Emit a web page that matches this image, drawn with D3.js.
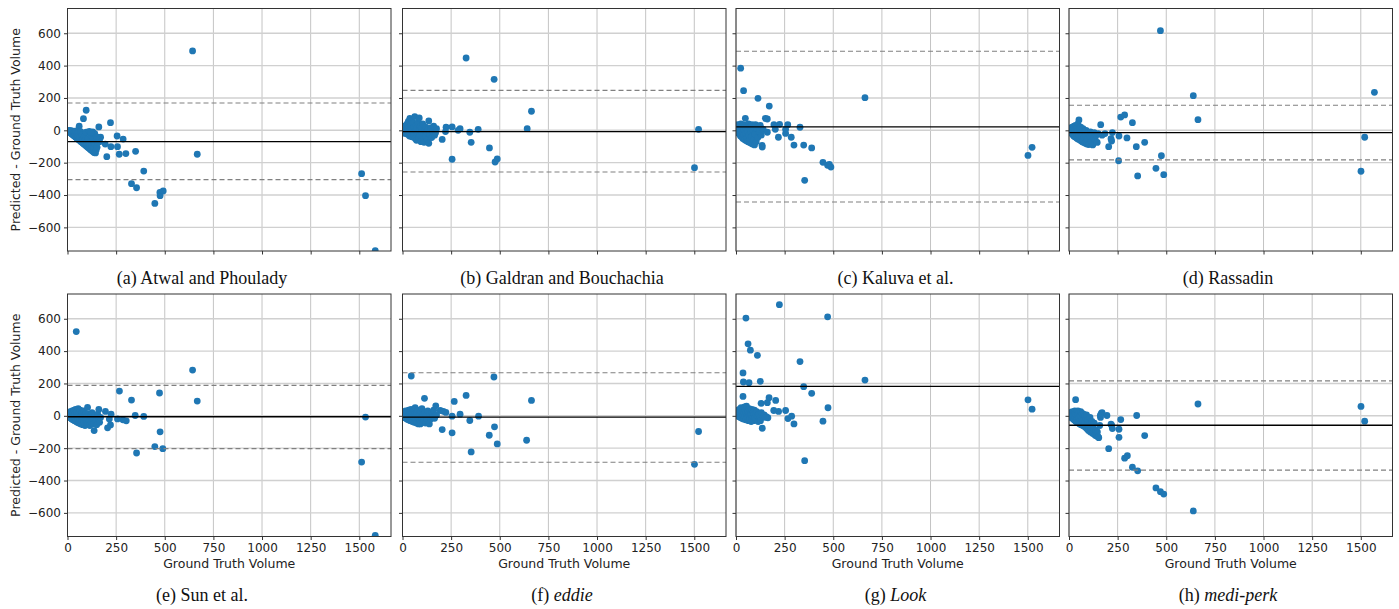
<!DOCTYPE html>
<html>
<head>
<meta charset="utf-8">
<script src="https://cdn.jsdelivr.net/npm/d3@7"></script>
<style>
  body { margin: 0; background: #fff; }
  svg { display: block; }
</style>
</head>
<body>
<svg id="chart" width="1399" height="609"></svg>
<script>
// Bland-Altman plots, [ground truth volume, predicted - ground truth]
const atwalPoints = [
  [643,491],[667,-148],[1512,-268],[1532,-404],[1582,-744],[449,-452],[475,-384],[476,-404],[492,-375],
  [329,-330],[355,-355],[392,-252],[350,-130],[300,-144],[266,-148],[286,-54],[255,-35],[257,-101],
  [221,47],[223,-101],[202,-163],[194,-85],[161,21],[170,-43],[165,-70],[96,124],[82,72],[60,25],
  [3,-2],[6,-6],[8,0],[10,-10],[12,-4],[14,-14],[16,-8],[18,-18],[20,-2],[22,-22],[24,-12],[26,-26],
  [28,-6],[30,-30],[32,-18],[34,-34],[36,-10],[38,-38],[40,-24],[42,-42],[44,-4],[46,-46],[48,-30],
  [50,-50],[52,-16],[54,-54],[56,-36],[58,-58],[62,-62],[64,-42],[66,-66],[68,-8],[70,-70],[72,-48],
  [74,-74],[76,-28],[78,-78],[80,-56],[84,-84],[86,-40],[88,-88],[90,-64],[94,-94],[96,-12],[98,-98],
  [100,-72],[104,-104],[106,-50],[108,-108],[110,-80],[112,-6],[114,-114],[116,-90],[118,-118],
  [120,-30],[122,-122],[124,-100],[126,-126],[128,-60],[132,-132],[134,-110],[138,-138],[140,-85],
  [144,-140],[148,-120],[152,-105],[156,-75],[160,-52],[150,-40],[140,-20],[130,-10],[120,-14]
];
const galdranPoints = [
  [327,447],[471,315],[663,118],[641,10],[1522,6],[1501,-231],[255,-179],[447,-109],[476,-196],[487,-177],
  [353,-74],[346,-12],[389,6],[296,10],[286,0],[255,21],[204,-56],[221,-8],[224,19],
  [3,5],[5,-10],[8,15],[10,-5],[12,25],[14,-20],[16,8],[18,30],[20,-15],[22,0],[24,40],[26,-25],[28,12],
  [30,55],[32,-8],[34,20],[36,-35],[38,74],[40,5],[42,-18],[44,35],[46,60],[48,-40],[50,10],[52,-5],
  [55,45],[58,-28],[60,20],[63,85],[65,-50],[68,0],[70,30],[72,-62],[75,15],[78,-20],[80,50],[82,-45],
  [86,76],[88,5],[90,-30],[92,25],[95,-70],[98,10],[100,-15],[104,40],[108,-55],[111,-74],[114,0],
  [118,-35],[120,20],[124,-10],[128,-60],[132,5],[135,-80],[135,58],[140,-25],[145,15],[150,-45],
  [155,-5],[160,25],[165,-30],[170,-15],[175,10]
];
const kaluvaPoints = [
  [24,384],[39,245],[113,198],[171,150],[663,202],[1522,-105],[1501,-155],[353,-309],[447,-198],[471,-216],
  [488,-227],[480,-210],[389,-109],[348,-91],[298,-91],[284,-43],[329,19],[266,35],[255,-19],[255,6],
  [224,37],[195,35],[202,6],[218,-43],
  [3,20],[5,0],[7,35],[9,-10],[11,15],[13,-20],[15,30],[17,-5],[19,-25],[21,10],[23,-35],[25,40],[27,0],
  [29,-40],[31,20],[33,-15],[35,-50],[37,35],[39,-30],[41,5],[43,-55],[45,25],[47,-60],[48,74],[50,-20],
  [52,10],[54,-65],[56,30],[58,-45],[60,-5],[62,-70],[64,40],[66,-30],[68,15],[70,-75],[72,-50],[74,25],
  [76,-10],[78,-80],[80,-40],[82,35],[85,-85],[88,0],[90,-60],[92,20],[95,-90],[98,-25],[100,35],
  [104,-70],[108,10],[112,-45],[116,25],[120,-10],[125,30],[130,-30],[134,-93],[135,-103],[140,5],
  [151,74],[161,70],[161,-12]
];
const rassadinPoints = [
  [470,616],[639,214],[663,66],[1570,235],[1520,-43],[1501,-253],[475,-157],[447,-235],[487,-274],
  [353,-282],[346,-101],[389,-74],[326,47],[298,-47],[266,82],[286,95],[255,-188],[257,-35],[219,-66],
  [216,-52],[223,-14],[204,-101],[185,-20],[170,-30],[163,35],
  [3,5],[5,-10],[8,15],[10,-5],[12,0],[14,-20],[16,20],[18,-12],[20,-28],[22,8],[24,-35],[26,25],[28,-18],
  [30,-40],[32,0],[34,30],[36,-45],[38,-22],[40,10],[42,-50],[44,-5],[46,40],[48,-55],[51,64],[52,-30],
  [54,15],[56,-60],[58,-12],[60,20],[62,-65],[64,-35],[66,5],[68,-70],[70,-20],[72,10],[75,-75],
  [78,-45],[80,-5],[84,-80],[86,-30],[88,0],[92,-85],[95,-55],[98,-15],[102,-88],[106,-40],[110,-10],
  [114,-70],[118,-25],[122,-90],[126,-50],[130,-15],[135,-60],[140,-30],[145,-75],[150,-20]
];
const sunPoints = [
  [45,521],[643,283],[667,91],[267,153],[329,97],[473,141],[348,2],[392,-4],[476,-99],[449,-190],
  [490,-203],[355,-230],[1532,-8],[1512,-286],[1582,-739],[302,-31],[285,-25],[257,-19],[224,10],
  [221,-56],[206,-74],[195,27],[215,-20],
  [3,10],[5,-5],[8,20],[10,0],[12,-10],[14,25],[16,5],[18,-15],[20,15],[22,-20],[24,30],[26,0],[28,-25],
  [30,20],[32,-8],[34,35],[36,-30],[38,10],[40,-15],[42,40],[44,-35],[46,5],[48,25],[50,-40],[52,-10],
  [55,45],[58,-45],[60,15],[62,-20],[65,35],[68,-50],[70,0],[72,-30],[75,20],[78,-55],[80,-10],[82,30],
  [85,-40],[88,5],[90,-60],[92,-20],[95,15],[98,-45],[100,-5],[103,52],[105,-55],[108,10],[112,-30],
  [115,-60],[118,0],[122,-40],[126,20],[130,-15],[134,-50],[137,-91],[140,0],[145,-30],[150,-55],
  [155,10],[160,-20],[161,39],[165,-40],[170,-10]
];
const eddiePoints = [
  [45,246],[470,240],[327,126],[266,89],[663,95],[296,10],[391,-2],[346,-29],[473,-68],[446,-120],
  [487,-174],[353,-223],[638,-151],[1522,-97],[1501,-300],[204,-85],[255,-105],[255,-2],[194,33],
  [223,21],[210,28],
  [3,10],[5,-5],[8,20],[10,0],[12,-12],[14,15],[16,30],[18,-8],[20,5],[22,-20],[24,25],[26,-3],[28,12],
  [30,-25],[32,35],[34,0],[36,-15],[38,20],[40,-30],[42,8],[44,40],[46,-10],[48,15],[50,-35],[52,25],
  [55,-5],[58,30],[60,-40],[62,10],[65,50],[68,-20],[70,5],[72,-45],[75,20],[78,-10],[80,35],[82,-50],
  [85,0],[88,15],[90,-35],[92,-50],[95,25],[98,-15],[100,45],[103,-40],[106,5],[110,-25],[113,108],
  [115,20],[118,-45],[122,0],[126,-20],[130,30],[134,-35],[138,-50],[140,10],[145,-20],[150,20],
  [155,-10],[160,35],[165,-15],[171,62],[175,5]
];
const lookPoints = [
  [223,687],[51,604],[471,612],[62,445],[74,406],[110,374],[329,335],[36,265],[38,209],[67,205],
  [125,213],[663,221],[348,180],[389,139],[36,120],[170,112],[129,77],[161,81],[204,95],[1501,99],
  [1522,41],[473,50],[447,-33],[353,-277],[255,33],[219,27],[194,33],[267,-17],[286,-2],[298,-50],
  [164,-12],[155,-5],
  [3,10],[5,25],[8,0],[10,35],[12,15],[14,-5],[16,40],[18,20],[20,5],[22,-10],[24,30],[26,50],[28,10],
  [30,-15],[32,25],[34,45],[36,0],[38,-20],[40,30],[42,15],[44,55],[46,-5],[48,35],[50,-25],[52,20],
  [54,60],[56,5],[58,-10],[60,40],[62,25],[64,-30],[66,10],[68,45],[70,0],[72,-20],[74,30],[76,15],
  [78,-35],[80,5],[82,40],[85,-15],[88,20],[90,-30],[92,10],[95,35],[98,-10],[100,15],[103,-25],
  [106,25],[110,0],[114,-35],[118,10],[122,-15],[126,-30],[130,20],[135,-77],[140,-5],[145,5],[150,-10]
];
const mediPerkPoints = [
  [34,100],[663,73],[1501,58],[1520,-33],[348,2],[266,-23],[257,-83],[257,-133],[389,-122],[204,-203],
  [286,-262],[300,-247],[326,-318],[353,-340],[447,-446],[470,-469],[487,-484],[639,-588],[219,-58],
  [223,-79],[216,-52],[195,2],
  [3,10],[5,0],[8,20],[10,-10],[12,15],[14,-5],[16,25],[18,-15],[20,5],[22,-20],[24,20],[26,-25],[28,0],
  [30,30],[32,-30],[34,10],[36,-35],[38,25],[40,-15],[42,-40],[44,5],[46,30],[48,-45],[50,-10],[52,20],
  [55,-50],[58,0],[60,25],[62,-55],[65,-20],[68,15],[70,-60],[72,-30],[75,10],[78,-65],[80,-40],[82,0],
  [85,-70],[88,-20],[90,5],[92,-80],[95,-50],[98,-25],[100,-90],[104,-60],[108,-10],[110,-100],
  [114,-70],[118,-35],[122,-110],[126,-80],[130,-45],[134,-120],[138,-90],[142,-125],[146,-100],
  [150,-130],[153,-135],[158,-60],[162,-10],[166,15],[170,19],[161,2]
];

const captionLetters = ["(a)", "(b)", "(c)", "(d)", "(e)", "(f)", "(g)", "(h)"];
const captionNames = ["Atwal and Phoulady", "Galdran and Bouchachia", "Kaluva et al.", "Rassadin",
                      "Sun et al.", "eddie", "Look", "medi-perk"];
const italicNames = [false, false, false, false, false, true, true, true];
const meanDiffs = [-70, -8, 21, -14, -6, -8, 182, -58];
const upperLimits = [169, 247, 489, 155, 188, 266, 1130, 216];
const lowerLimits = [-305, -258, -443, -183, -203, -287, -766, -336];
const xTicks = [0, 250, 500, 750, 1000, 1250, 1500];
const yTicks = [-600, -400, -200, 0, 200, 400, 600];

const allPoints = [atwalPoints, galdranPoints, kaluvaPoints, rassadinPoints,
                   sunPoints, eddiePoints, lookPoints, mediPerkPoints];

const svg = d3.select("#chart");
const colLeft = [67.5, 402.5, 736, 1069];
const rowTop = [8.5, 294];
const plotW = 323.5, plotH = 242.5;
// caption centres, in page x (first column includes the y-axis label)
const captionX = [202, 562, 895.5, 1228];

const x = d3.scaleLinear().domain([0, 1663]).range([0, plotW]);
const y = d3.scaleLinear().domain([-746, 753]).range([plotH, 0]);
const fmt = d => d < 0 ? "\u2212" + Math.abs(d) : d;
const sans = "'DejaVu Sans', sans-serif";

allPoints.forEach((pts, i) => {
  const col = i % 4, row = Math.floor(i / 4);
  const g = svg.append("g").attr("transform", `translate(${colLeft[col]},${rowTop[row]})`);

  g.append("clipPath").attr("id", "clip" + i)
    .append("rect").attr("width", plotW).attr("height", plotH);

  // grid
  g.append("g").selectAll("line").data(xTicks).join("line")
    .attr("x1", d => x(d)).attr("x2", d => x(d)).attr("y1", 0).attr("y2", plotH)
    .attr("stroke", "#c4c4c4").attr("stroke-width", 1);
  g.append("g").selectAll("line").data(yTicks).join("line")
    .attr("x1", 0).attr("x2", plotW).attr("y1", d => y(d)).attr("y2", d => y(d))
    .attr("stroke", "#d0d0d0").attr("stroke-width", 1.4);

  const inner = g.append("g").attr("clip-path", `url(#clip${i})`);

  inner.selectAll("circle").data(pts).join("circle")
    .attr("cx", d => x(d[0])).attr("cy", d => y(d[1])).attr("r", 3.4)
    .attr("fill", "#1f77b4");

  inner.append("line")
    .attr("x1", 0).attr("x2", plotW).attr("y1", y(meanDiffs[i])).attr("y2", y(meanDiffs[i]))
    .attr("stroke", "#000").attr("stroke-width", 1.4);
  [upperLimits[i], lowerLimits[i]].forEach(v => {
    inner.append("line")
      .attr("x1", 0).attr("x2", plotW).attr("y1", y(v)).attr("y2", y(v))
      .attr("stroke", "#808080").attr("stroke-width", 1.1).attr("stroke-dasharray", "5,3");
  });

  // axes
  const xAxis = d3.axisBottom(x).tickValues(xTicks).tickSize(3.5).tickPadding(3)
    .tickFormat(row === 0 ? "" : d3.format("d"));
  const gx = g.append("g").attr("transform", `translate(0,${plotH})`).call(xAxis);
  const yAxis = d3.axisLeft(y).tickValues(yTicks).tickSize(3.5).tickPadding(3)
    .tickFormat(col === 0 ? fmt : "");
  const gy = g.append("g").call(yAxis);
  [gx, gy].forEach(a => {
    a.select(".domain").remove();
    a.selectAll("line").attr("stroke", "#333");
    a.selectAll("text").attr("fill", "#222")
      .style("font-family", sans).style("font-size", "12px");
  });

  g.append("rect").attr("width", plotW).attr("height", plotH)
    .attr("fill", "none").attr("stroke", "#333").attr("stroke-width", 1);

  if (row === 1) {
    g.append("text").attr("x", plotW / 2).attr("y", plotH + 31)
      .attr("text-anchor", "middle").attr("fill", "#222")
      .style("font-family", sans).style("font-size", "12.5px")
      .text("Ground Truth Volume");
  }
  if (col === 0) {
    g.append("text")
      .attr("transform", `translate(${-51.5},${plotH / 2}) rotate(-90)`)
      .attr("text-anchor", "middle").attr("dy", "0.35em").attr("fill", "#222")
      .style("font-family", sans).style("font-size", "12.5px")
      .text("Predicted - Ground Truth Volume");
  }

  const cap = g.append("text").attr("x", captionX[col] - colLeft[col]).attr("y", row === 0 ? 275.5 : 307)
    .attr("text-anchor", "middle").attr("fill", "#111")
    .style("font-family", "'Liberation Serif', 'Times New Roman', serif").style("font-size", "18px");
  cap.append("tspan").text(captionLetters[i] + " ");
  cap.append("tspan").attr("font-style", italicNames[i] ? "italic" : "normal").text(captionNames[i]);
});
</script>
</body>
</html>
